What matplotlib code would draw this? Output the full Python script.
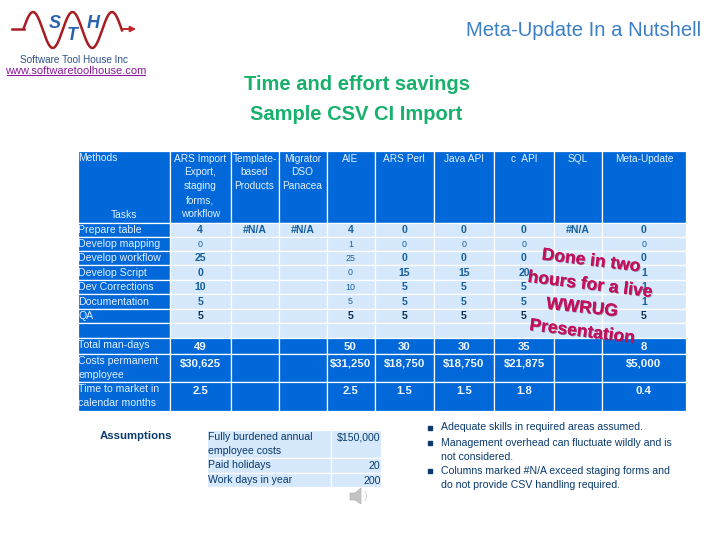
import matplotlib
matplotlib.use("Agg")
import matplotlib.pyplot as plt
import matplotlib.patheffects as pe
from matplotlib.patches import Rectangle, Polygon
import numpy as np

plt.rcParams['font.family'] = ['Liberation Sans', 'DejaVu Sans']

# table text
methods = ["ARS Import\nExport,\nstaging\nforms,\nworkflow", "Template-\nbased\nProducts", "Migrator\nDSO\nPanacea",
           "AIE", "ARS Perl", "Java API", "c  API", "SQL", "Meta-Update"]
tasks = ["Prepare table", "Develop mapping", "Develop workflow", "Develop Script",
         "Dev Corrections", "Documentation", "QA"]
ars_import = ["4", "0", "25", "0", "10", "5", "5"]
template_based = ["#N/A", "", "", "", "", "", ""]
migrator = ["#N/A", "", "", "", "", "", ""]
aie = ["4", "1", "25", "0", "10", "5", "5"]
ars_perl = ["0", "0", "0", "15", "5", "5", "5"]
java_api = ["0", "0", "0", "15", "5", "5", "5"]
c_api = ["0", "0", "0", "20", "5", "5", "5"]
sql = ["#N/A", "", "", "", "", "", ""]
meta_update = ["0", "0", "0", "1", "1", "1", "5"]
task_cols = [ars_import, template_based, migrator, aie, ars_perl, java_api, c_api, sql, meta_update]

summary_labels = ["Total man-days", "Costs permanent\nemployee", "Time to market in\ncalendar months"]
man_days = ["49", "", "", "50", "30", "30", "35", "", "8"]
costs = ["$30,625", "", "", "$31,250", "$18,750", "$18,750", "$21,875", "", "$5,000"]
months = ["2.5", "", "", "2.5", "1.5", "1.5", "1.8", "", "0.4"]
summary_rows = [man_days, costs, months]

assume_labels = ["Fully burdened annual\nemployee costs", "Paid holidays", "Work days in year"]
assume_values = ["$150,000", "20", "200"]
bullets = ["Adequate skills in required areas assumed.",
           "Management overhead can fluctuate wildly and is\nnot considered.",
           "Columns marked #N/A exceed staging forms and\ndo not provide CSV handling required."]

# grid edges in pixels
col_x = [78, 170, 230.5, 278.5, 326.5, 374.5, 434, 494, 554, 602, 686]
row_y = [151, 222.5, 236.5, 250.5, 265, 279.5, 294, 308.5, 323, 338, 354, 382, 411]
BLUE = "#0068d8"
LIGHT = "#d5e8fc"
NAVY = "#0a3a6e"
TEAL = "#17609e"
PALE = "#e4f0ff"

fig = plt.figure(figsize=(7.2, 5.4), dpi=100)
ax = fig.add_axes([0, 0, 1, 1])
ax.set_xlim(0, 720)
ax.set_ylim(540, 0)
ax.axis("off")


def cell(x0, x1, y0, y1, color):
    ax.add_patch(Rectangle((x0, y0), x1 - x0, y1 - y0, fc=color, ec="white", lw=0.9))


# main table backgrounds
for r in range(len(row_y) - 1):
    for c in range(len(col_x) - 1):
        if r == 0 or r >= 9 or c == 0:
            color = BLUE
        else:
            color = LIGHT
        cell(col_x[c], col_x[c + 1], row_y[r], row_y[r + 1], color)

# header row
ax.text(78.5, 158, "Methods", fontsize=7.4, color=PALE, va="center")
ax.text(124, 215, "Tasks", fontsize=7.4, color=PALE, va="center", ha="center")
for c, name in enumerate(methods):
    xc = (col_x[c + 1] + col_x[c + 2]) / 2
    ax.text(xc, 153.5, name, fontsize=7.3, color=PALE, va="top", ha="center", linespacing=1.48)

# task rows
for r, task in enumerate(tasks):
    yc = (row_y[r + 1] + row_y[r + 2]) / 2 + 0.7
    ax.text(78.5, yc, task, fontsize=7.6, color=PALE, va="center")
    for c, col in enumerate(task_cols):
        xc = (col_x[c + 1] + col_x[c + 2]) / 2
        small = r == 1 or (c == 3 and 2 <= r <= 5)
        ax.text(xc, yc, col[r], fontsize=6.4 if small else 7.6, color=TEAL if r < 6 else "#10304f",
                va="center", ha="center", fontweight="normal" if small else "bold")

# summary rows
for i, label in enumerate(summary_labels):
    ax.text(78.5, row_y[9 + i] + 2.5, label, fontsize=7.6, color=PALE, va="top", linespacing=1.42)
    for c, val in enumerate(summary_rows[i]):
        xc = (col_x[c + 1] + col_x[c + 2]) / 2
        ax.text(xc, row_y[9 + i] + 9, val, fontsize=8.2, color="#f2f7ff", va="center", ha="center", fontweight="bold")

# assumptions block
ax.text(136, 436, "Assumptions", fontsize=8.2, color=NAVY, fontweight="bold", va="center", ha="center")
as_x = [207, 331, 381]
as_y = [430, 458, 472.5, 487]
for r in range(3):
    for c in range(2):
        cell(as_x[c], as_x[c + 1], as_y[r], as_y[r + 1], LIGHT)
    ax.text(207.5, as_y[r] + 2.5, assume_labels[r], fontsize=7.6, color=NAVY, va="top", linespacing=1.5)
    ax.text(380.5, as_y[r] + 8, assume_values[r], fontsize=7.6, color=NAVY, va="center", ha="right")

# bullet notes
bullet_y = [428, 443, 471.5]
for y, note in zip(bullet_y, bullets):
    ax.plot([430], [y - 0.5], marker="s", ms=2.6, color=NAVY)
    ax.text(441, y - 5.5, note, fontsize=7.6, color=NAVY, va="top", linespacing=1.5)

# titles
ax.text(701, 30, "Meta-Update In a Nutshell", fontsize=14.6, color="#3c7fc4", ha="right", va="center")
ax.text(357, 85, "Time and effort savings", fontsize=14.5, color="#17b06c", ha="center", va="center", fontweight="bold")
ax.text(356, 114, "Sample CSV CI Import", fontsize=14.5, color="#17b06c", ha="center", va="center", fontweight="bold")

# logo
wave_x = np.linspace(24, 122, 200)
wave_y = 30 - 18 * np.cos(2 * np.pi * (wave_x - 33) / 39.5)
ax.plot(wave_x, wave_y, color="#a81c22", lw=1.8)
ax.plot([12, 24], [29, 29], color="#a81c22", lw=1.8)
ax.annotate("", xy=(139, 29), xytext=(120, 29), arrowprops=dict(arrowstyle="-|>", color="#c0282a", lw=1.4, mutation_scale=8))
for ch, x, y in [("S", 55, 23), ("T", 72, 36), ("H", 93, 23)]:
    ax.text(x, y, ch, fontsize=13, color="#2a62b0", fontweight="bold", style="italic", ha="center", va="center")
ax.text(74, 60, "Software Tool House Inc", fontsize=7.2, color="#2d5088", ha="center", va="center")
ax.text(76, 70.5, "www.softwaretoolhouse.com", fontsize=8, color="#8b1a9a", ha="center", va="center")
ax.plot([7, 145], [75, 75], color="#8b1a9a", lw=0.8)

# speaker icon
ax.add_patch(Polygon([[350, 493], [355, 493], [361, 488], [361, 504], [355, 500], [350, 500]], fc="#c4c4c4", ec="#aaaaaa", lw=0.4))
ax.text(366, 496, ")", fontsize=8, color="#d5d5d5", ha="center", va="center")

# callout over the table
callout = [("Done in two", 591, 261, -7), ("hours for a live", 590, 285, -7), ("WWRUG", 582, 308, -6), ("Presentation", 582, 332, -7)]
for line, x, y, rot in callout:
    ax.text(x, y, line, fontsize=12.6, color="#c2105c", fontweight="bold", ha="center", va="center", rotation=rot,
            path_effects=[pe.withSimplePatchShadow(offset=(0.6, -0.6), shadow_rgbFace="#5a3050", alpha=0.5), pe.Normal()])

fig.savefig("out.png", dpi=100)
